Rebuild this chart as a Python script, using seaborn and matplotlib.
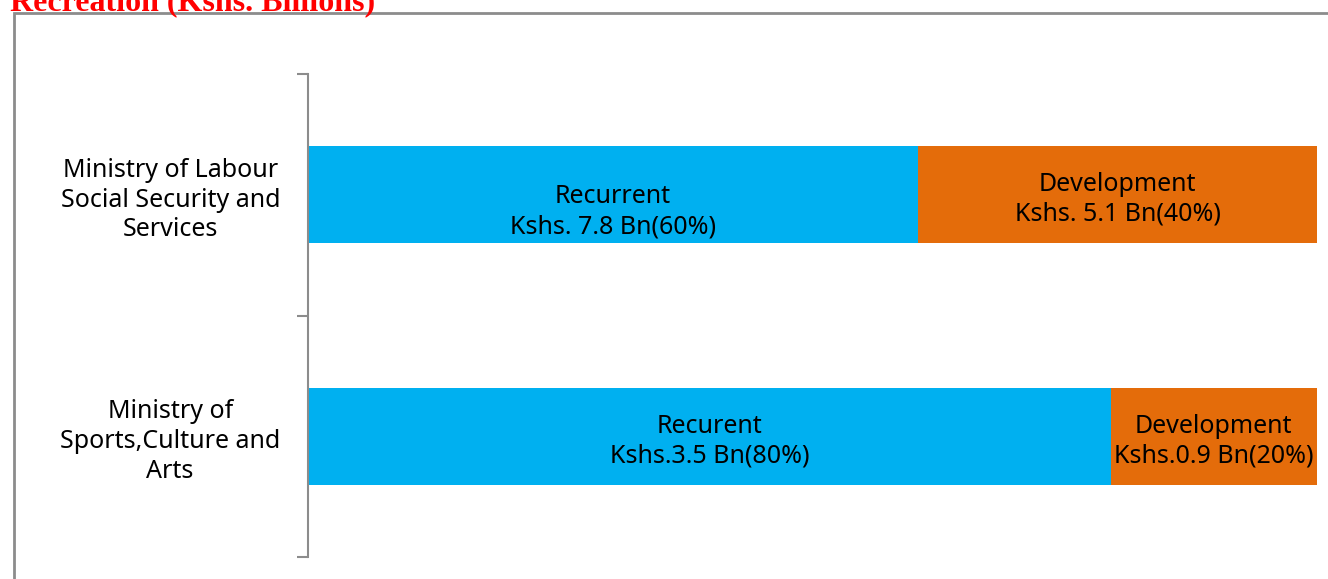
"""Recreation budget split, 100% stacked horizontal bars."""
import matplotlib.pyplot as plt
import pandas as pd
import seaborn as sns
from matplotlib.patches import Rectangle

ministries = [
    "Ministry of Labour\nSocial Security and\nServices",
    "Ministry of\nSports,Culture and\nArts",
]
recurrent = [7.8, 3.5]
development = [5.1, 0.9]
recurrent_labels = ["Recurrent\nKshs. 7.8 Bn(60%)", "Recurent\nKshs.3.5 Bn(80%)"]
development_labels = ["Development\nKshs. 5.1 Bn(40%)", "Development\nKshs.0.9 Bn(20%)"]

BLUE = "#00B0F0"
ORANGE = "#E46C0A"
GREY = "#8C8C8C"
# small downward nudges of the data labels, as placed in the original
rec_nudge = [0.07, 0.02]
dev_nudge = [0.02, 0.02]

df = pd.DataFrame({"ministry": ministries, "recurrent": recurrent, "development": development})
df["total"] = df["recurrent"] + df["development"]
df["rec_share"] = df["recurrent"] / df["total"]
df["full"] = 1.0

sns.set_theme(style="white")
plt.rcParams["font.family"] = ["Noto Sans", "DejaVu Sans"]

fig = plt.figure(figsize=(13.28, 5.79), dpi=100)
ax = fig.add_axes([308 / 1328, 1 - 557 / 579, (1317 - 308) / 1328, (557 - 74) / 579])

sns.barplot(data=df, x="full", y="ministry", orient="h", color=ORANGE,
            width=0.4, saturation=1, ax=ax, linewidth=0)
sns.barplot(data=df, x="rec_share", y="ministry", orient="h", color=BLUE,
            width=0.4, saturation=1, ax=ax, linewidth=0)

for i, row in df.iterrows():
    share = row["rec_share"]
    ax.text(share / 2, i + rec_nudge[i], recurrent_labels[i], ha="center",
            va="center", fontsize=18, color="black", linespacing=1.25)
    ax.text(share + (1 - share) / 2, i + dev_nudge[i], development_labels[i],
            ha="center", va="center", fontsize=18, color="black", linespacing=1.25)

ax.set_xlim(0, 1)
ax.set_ylim(1.5, -0.5)
ax.set_xlabel("")
ax.set_ylabel("")
ax.set_xticks([])
ax.set_yticks([0, 1])
ax.set_yticklabels(ministries, multialignment="center", linespacing=1.25)
ax.set_yticks([-0.5, 0.5, 1.5], minor=True)
ax.tick_params(axis="y", which="major", length=0, pad=20, labelsize=18, labelcolor="black")
ax.tick_params(axis="y", which="minor", length=8, width=1.5, color=GREY, direction="out", left=True)
for side in ["top", "right", "bottom"]:
    ax.spines[side].set_visible(False)
ax.spines["left"].set_color(GREY)
ax.spines["left"].set_linewidth(1.5)
ax.patch.set_alpha(0)

# chart frame, running off the right and bottom edges
fig.patches.append(Rectangle((14 / 1328, -0.1), 1.2, 1.1 - 13 / 579,
                             transform=fig.transFigure, fill=False,
                             edgecolor=GREY, linewidth=2, zorder=0))

fig.text(10 / 1328, 1 - 10 / 579, "Recreation (Kshs. Billions)", ha="left",
         va="baseline", color="#FF0000", fontsize=23, fontweight="bold",
         family=["Liberation Serif", "DejaVu Serif"])

fig.savefig("out.png", dpi=100)
plt.close(fig)
